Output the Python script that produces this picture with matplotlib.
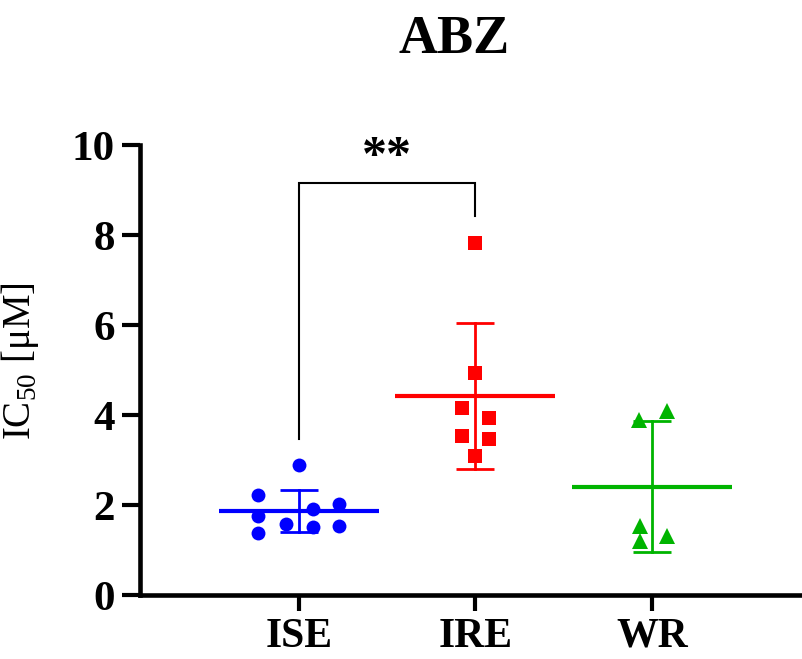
import numpy as np
import matplotlib
matplotlib.use("Agg")
import matplotlib.pyplot as plt

plt.rcParams['font.family'] = ['Liberation Serif', 'DejaVu Serif']
plt.rcParams['mathtext.fontset'] = 'custom'
plt.rcParams['mathtext.rm'] = 'Liberation Serif'

# ---- data ----
categories = ["ISE", "IRE", "WR"]
ise_values = [2.88, 2.23, 1.75, 1.37, 1.58, 1.91, 1.52, 2.03, 1.54]
ire_values = [7.83, 4.94, 4.16, 3.94, 3.53, 3.46, 3.10]
wr_values = [3.90, 4.08, 1.54, 1.21, 1.32]
y_ticks = [0, 2, 4, 6, 8, 10]
title = "ABZ"
ylabel = r"IC$_{50}$ [μM]"
significance = "**"

# ---- layout (scatter jitter) ----
ise_jitter = [0.0, -0.23, -0.23, -0.23, -0.075, 0.08, 0.08, 0.23, 0.23]
ire_jitter = [0.0, 0.0, -0.075, 0.075, -0.075, 0.075, 0.0]
wr_jitter = [-0.075, 0.085, -0.07, -0.07, 0.085]

colors = ["#0000FF", "#FF0000", "#00B400"]
markers = ["o", "s", "^"]
msizes = [10, 10, 11]

W, H = 803, 659
fig = plt.figure(figsize=(W / 100, H / 100), dpi=100)
ax_left, ax_right = 140 / W, 1.0
ax_bottom, ax_top = (H - 595) / H, (H - 145) / H
ax = fig.add_axes([ax_left, ax_bottom, ax_right - ax_left, ax_top - ax_bottom])

groups = [ise_values, ire_values, wr_values]
jitters = [ise_jitter, ire_jitter, wr_jitter]
centers = [0, 1, 2]

for i, (vals, jit) in enumerate(zip(groups, jitters)):
    vals = np.asarray(vals)
    xs = centers[i] + np.asarray(jit)
    m = vals.mean()
    sd = vals.std(ddof=1)
    c = colors[i]
    # mean line
    ax.plot([centers[i] - 0.453, centers[i] + 0.453], [m, m], color=c, lw=3.0,
            solid_capstyle='butt', zorder=3)
    # SD error bars
    ax.plot([centers[i], centers[i]], [m - sd, m + sd], color=c, lw=2.0, zorder=3)
    for yy in (m - sd, m + sd):
        ax.plot([centers[i] - 0.108, centers[i] + 0.108], [yy, yy], color=c, lw=2.0,
                solid_capstyle='butt', zorder=3)
    ax.plot(xs, vals, linestyle='none', marker=markers[i], color=c,
            markersize=msizes[i], markeredgewidth=0, zorder=4)

# significance bracket ISE vs IRE
b_y, left_end, right_end = 9.15, 3.47, 8.43
ax.plot([0, 0, 1, 1], [left_end, b_y, b_y, right_end], color='black', lw=1.5,
        solid_joinstyle='miter', zorder=2, clip_on=False)
ax.text(0.5, 9.2, significance, ha='center', va='bottom', fontsize=36,
        fontweight='bold', clip_on=False)

ax.set_xlim(-0.90, 2.856)
ax.set_ylim(0, 10)
ax.set_yticks(y_ticks)
ax.set_yticklabels([str(t) for t in y_ticks])
ax.set_xticks(centers)
ax.set_xticklabels(categories)

for s in ['top', 'right']:
    ax.spines[s].set_visible(False)
for s in ['left', 'bottom']:
    ax.spines[s].set_linewidth(3.3)
    ax.spines[s].set_capstyle('projecting')

ax.tick_params(axis='y', length=13, width=3.0, pad=5, labelsize=31)
ax.tick_params(axis='x', length=11.5, width=3.0, pad=5, labelsize=30)
for lbl in ax.get_xticklabels() + ax.get_yticklabels():
    lbl.set_fontweight('bold')

ax.set_ylabel(ylabel, fontsize=28)
ax.yaxis.label.set_verticalalignment('center')
ax.yaxis.set_label_coords((20 - 140) / 663, 0.52)

fig.text(454 / W, 1 - 53 / H, title, ha='center', va='baseline', fontsize=39,
         fontweight='bold')

fig.savefig("out.png", dpi=100)
